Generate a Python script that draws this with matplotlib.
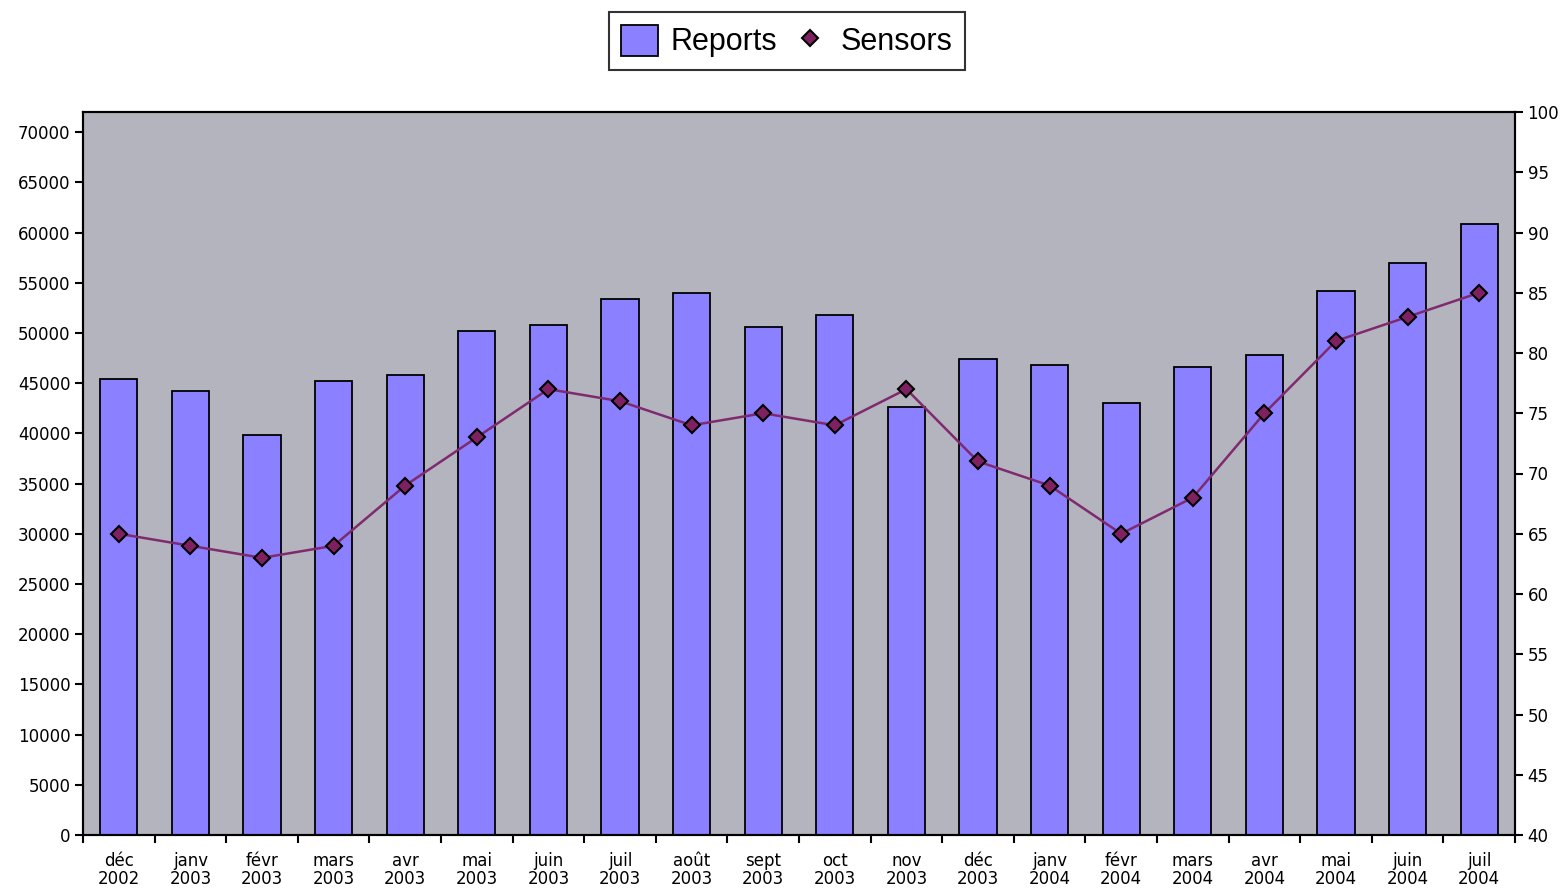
import matplotlib
matplotlib.use("Agg")
import matplotlib.pyplot as plt
import numpy as np
from matplotlib.lines import Line2D
from matplotlib.patches import Patch

plt.rcParams['font.family'] = ['DejaVu Sans']

months = ["déc\n2002", "janv\n2003", "févr\n2003", "mars\n2003", "avr\n2003", "mai\n2003",
          "juin\n2003", "juil\n2003", "août\n2003", "sept\n2003", "oct\n2003", "nov\n2003",
          "déc\n2003", "janv\n2004", "févr\n2004", "mars\n2004", "avr\n2004", "mai\n2004",
          "juin\n2004", "juil\n2004"]
reports = [45400, 44200, 39800, 45200, 45800, 50200, 50800, 53400, 54000, 50600,
           51800, 42600, 47400, 46800, 43000, 46600, 47800, 54200, 57000, 60800]
sensors = [65, 64, 63, 64, 69, 73, 77, 76, 74, 75, 74, 77, 71, 69, 65, 68, 75, 81, 83, 85]

W, H = 1564, 894
fig = plt.figure(figsize=(W/100, H/100), dpi=100)
ax = fig.add_axes([83/W, 1-835/H, (1515-83)/W, (835-112)/H])
ax.set_facecolor('#B4B4BE')
x = np.arange(len(months))
ax.bar(x, reports, width=0.52, color='#8B80FF', edgecolor='black', linewidth=1.3, zorder=2)
ax.set_xlim(-0.5, len(months)-0.5)
ax.set_ylim(0, 72000)
ax.set_yticks(np.arange(0, 70001, 5000))
ax.tick_params(axis='y', labelsize=12, length=6, width=1.5, direction='out', pad=3)
ax.set_xticks(np.arange(-0.5, len(months), 1))
ax.set_xticklabels([])
ax.tick_params(axis='x', which='major', length=6, width=1.5, direction='out')
ax.set_xticks(x, minor=True)
ax.set_xticklabels(months, minor=True, fontsize=12, linespacing=1.05)
ax.tick_params(axis='x', which='minor', length=0, pad=12)
for s in ax.spines.values():
    s.set_linewidth(1.5)

ax2 = ax.twinx()
ax2.plot(x, sensors, color='#7F2A6E', linewidth=1.8, marker='D', markersize=8,
         markerfacecolor='#7F2060', markeredgecolor='black', markeredgewidth=1.5, zorder=3)
ax2.set_ylim(40, 100)
ax2.set_yticks(np.arange(40, 101, 5))
ax2.tick_params(axis='y', labelsize=12, length=6, width=1.5, direction='out', pad=3)
for s in ax2.spines.values():
    s.set_linewidth(1.5)

handles = [Patch(facecolor='#8B80FF', edgecolor='black', linewidth=1.3),
           Line2D([], [], linestyle='none', marker='D', markersize=8,
                  markerfacecolor='#7F2060', markeredgecolor='black', markeredgewidth=1.5)]
leg = fig.legend(handles, ['Reports', 'Sensors'], loc='center', bbox_to_anchor=(787/W, 1-41/H),
                 ncol=2, frameon=True, fancybox=False, edgecolor='black',
                 handlelength=1.2, handleheight=1.2, handletextpad=0.4, columnspacing=0.5,
                 borderpad=0.4, prop={'family': 'Liberation Sans', 'size': 22})
leg.get_frame().set_linewidth(1.5)

fig.savefig('out.png', dpi=100)
